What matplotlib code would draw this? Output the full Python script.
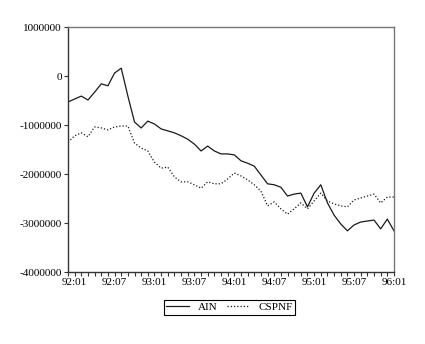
import numpy as np
import matplotlib
matplotlib.use('Agg')
import matplotlib.pyplot as plt

# monthly observations, 91:12 .. 96:01
months = ['91:12'] + ['%02d:%02d' % (y, m) for y in range(92, 96) for m in range(1, 13)] + ['96:01']

ain = [-530000, -470000, -410000, -490000, -330000, -160000, -200000, 60000, 160000, -410000,
       -940000, -1060000, -920000, -980000, -1080000, -1120000, -1160000, -1220000, -1290000, -1390000,
       -1530000, -1430000, -1530000, -1590000, -1590000, -1610000, -1730000, -1780000, -1840000, -2020000,
       -2200000, -2220000, -2270000, -2450000, -2410000, -2390000, -2670000, -2390000, -2220000, -2590000,
       -2840000, -3020000, -3160000, -3040000, -2980000, -2960000, -2940000, -3120000, -2920000, -3160000]

cspnf = [-1350000, -1220000, -1160000, -1240000, -1040000, -1060000, -1100000, -1040000, -1020000, -1020000,
         -1370000, -1470000, -1530000, -1760000, -1880000, -1860000, -2060000, -2160000, -2160000, -2220000,
         -2290000, -2160000, -2200000, -2200000, -2100000, -1980000, -2040000, -2120000, -2220000, -2350000,
         -2650000, -2570000, -2710000, -2820000, -2710000, -2590000, -2710000, -2550000, -2390000, -2550000,
         -2610000, -2650000, -2670000, -2530000, -2490000, -2450000, -2410000, -2590000, -2470000, -2470000]

yticks = [1000000, 0, -1000000, -2000000, -3000000, -4000000]

plt.rcParams['font.family'] = ['Liberation Serif', 'DejaVu Serif']
fig = plt.figure(figsize=(4.25, 3.44), dpi=100)
ax = fig.add_axes([0.16, 0.2093, 0.767, 0.7122])

x = np.arange(len(months))
ax.plot(x, ain, color='#1a1a1a', lw=0.9, label='AIN')
ax.plot(x, cspnf, color='#1a1a1a', lw=0.9, ls=(0, (1, 1.6)), label='CSPNF')

ax.set_xlim(0, len(months) - 1)
ax.set_ylim(-4000000, 1000000)
ax.set_yticks(yticks)
ax.set_yticklabels([str(v) for v in yticks], fontsize=8)

lab_idx = [i for i, m in enumerate(months) if m.endswith(':01') or m.endswith(':07')]
ax.set_xticks(x, minor=True)
ax.set_xticks(lab_idx)
ax.set_xticklabels([months[i] for i in lab_idx], fontsize=8)
ax.tick_params(axis='both', which='both', direction='out', length=3, width=0.8,
               color='#333333', pad=1.5)

for s in ['left', 'bottom']:
    ax.spines[s].set_color('#333333')
    ax.spines[s].set_linewidth(1.0)
for s in ['top', 'right']:
    ax.spines[s].set_color('#777777')
    ax.spines[s].set_linewidth(1.0)

leg = fig.legend(loc='center', bbox_to_anchor=(0.54, 0.1065, 0, 0), ncol=2, fontsize=8,
                 fancybox=False, edgecolor='black', framealpha=1, handlelength=2.0,
                 columnspacing=0.9, handletextpad=0.8, borderpad=0.25, borderaxespad=0)
leg.get_frame().set_linewidth(0.8)

plt.savefig('out.png', dpi=100)
